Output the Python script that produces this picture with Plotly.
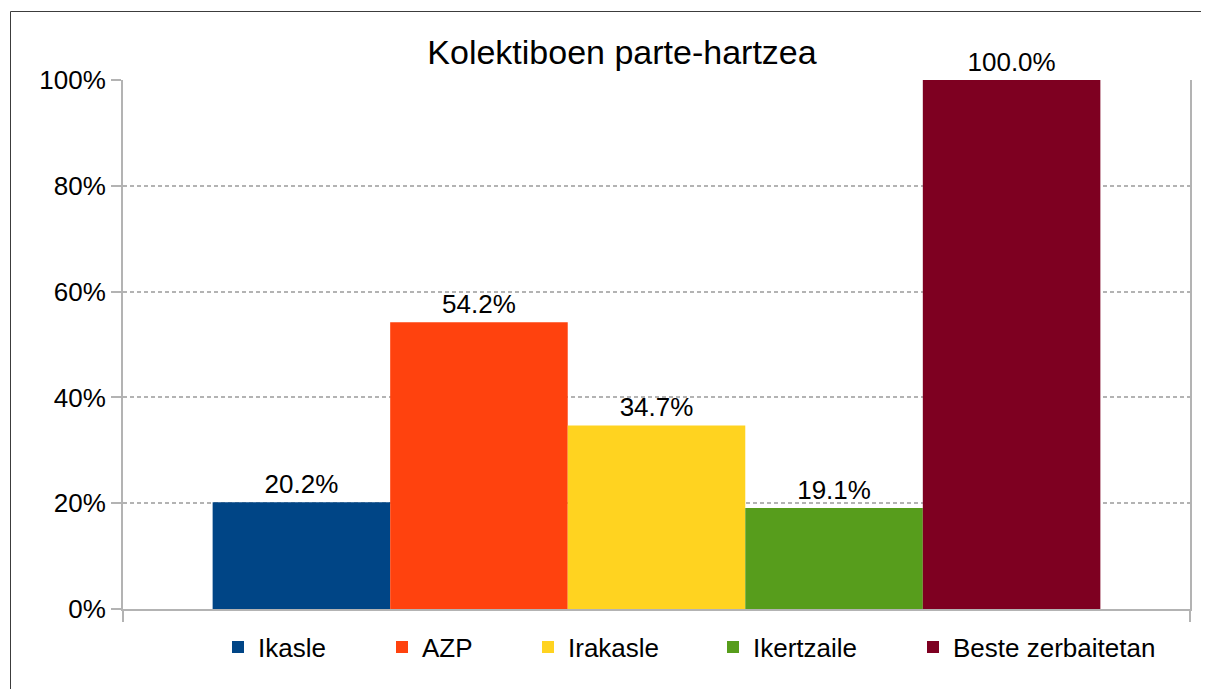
import plotly.graph_objects as go

categories = ["Ikasle", "AZP", "Irakasle", "Ikertzaile", "Beste zerbaitetan"]
values = [20.2, 54.2, 34.7, 19.1, 100.0]
colors = ["#004586", "#ff420e", "#ffd320", "#579d1c", "#7e0021"]
y_ticks = [0, 20, 40, 60, 80, 100]

# page has an 8px body margin, so figure coords = reference coords - 8
OFF = 8
W, H = 1209 - OFF, 689 - OFF
L, R, T, B = 123 - OFF, 1209 - 1190, 80 - OFF, 689 - 609
pw, ph = W - L - R, H - T - B

def px_x(px):
    return (px - OFF - L) / pw

def px_y(py):
    return (H - B - (py - OFF)) / ph

legend_square_left = [232, 396, 542, 727, 927]
SYM_OFF = 14

fig = go.Figure()
legend_ids = ["legend"] + [f"legend{i}" for i in range(2, len(categories) + 1)]
for name, v, c, lid in zip(categories, values, colors, legend_ids):
    fig.add_trace(go.Bar(
        x=["Kolektiboak"], y=[v], name=name, legend=lid,
        marker=dict(color=c, line=dict(width=0)),
        text=[f"{v:.1f}%"], textposition="outside",
        textfont=dict(size=26, color="#000000", family="Liberation Sans"),
        cliponaxis=False,
    ))

legend_layout = {}
for lid, sx in zip(legend_ids, legend_square_left):
    legend_layout[lid] = dict(
        orientation="h", x=px_x(sx - SYM_OFF), xanchor="left",
        y=px_y(647), yanchor="middle", font=dict(size=26),
        bgcolor="rgba(0,0,0,0)",
    )

fig.update_layout(
    width=W, height=H,
    margin=dict(l=L, r=R, t=T, b=B),
    paper_bgcolor="white", plot_bgcolor="white",
    barmode="group", bargap=0.168, bargroupgap=0,
    font=dict(family="Liberation Sans", size=26, color="#000000"),
    title=dict(text="Kolektiboen parte-hartzea", x=(622 - OFF) / W, xanchor="center",
               y=1 - (52 - OFF) / H, yanchor="middle", font=dict(size=34)),
    showlegend=True,
    **legend_layout,
)
fig.update_xaxes(
    range=[-0.5, 0.5], showticklabels=False, showgrid=False,
    showline=True, linecolor="#b3b3b3", linewidth=2,
    ticks="outside", tickson="boundaries", ticklen=11, tickcolor="#b3b3b3", tickwidth=2,
)
fig.update_yaxes(
    range=[0, 100], tickvals=y_ticks, ticktext=[f"{t}%" for t in y_ticks],
    showgrid=True, gridcolor="#b3b3b3", griddash="4px,3px", gridwidth=1.5,
    showline=True, mirror=True, linecolor="#b3b3b3", linewidth=2,
    ticks="outside", ticklen=10, tickcolor="#b3b3b3", tickwidth=2,
    zeroline=False, tickfont=dict(size=26),
)
fig.add_shape(type="rect", xref="paper", yref="paper",
              x0=px_x(10.5), x1=px_x(1215), y0=px_y(700), y1=px_y(11.5),
              line=dict(color="#3c3c3c", width=1), fillcolor="rgba(0,0,0,0)", layer="below")

fig.write_html("out.html")
